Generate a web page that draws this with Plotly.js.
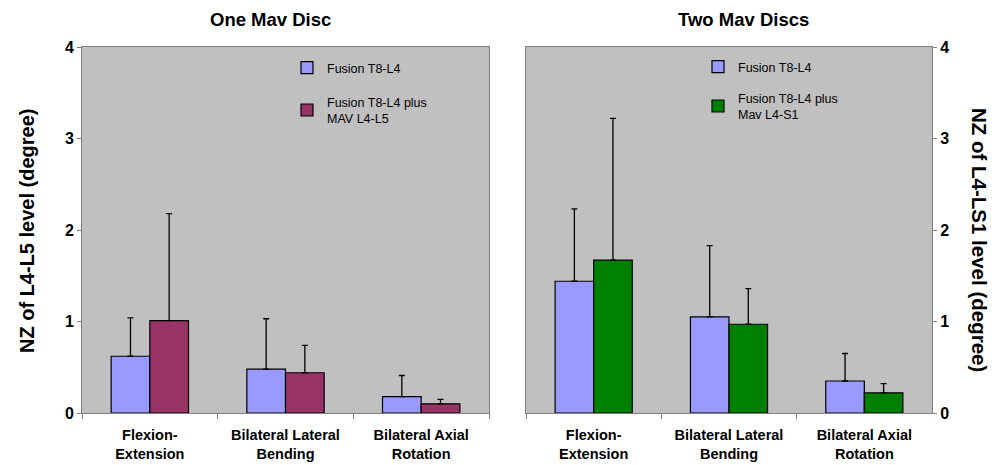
<!DOCTYPE html>
<html>
<head>
<meta charset="utf-8">
<script src="https://cdn.plot.ly/plotly-3.0.1.min.js"></script>
<style>
  html, body { margin: 0; padding: 0; background: #ffffff; }
  #chart { width: 1003px; height: 465px; }
</style>
</head>
<body>
<div id="chart"></div>
<script>
// Motion categories shared by both panels
const categories = ['Flexion-<br>Extension', 'Bilateral Lateral<br>Bending', 'Bilateral Axial<br>Rotation'];

// One Mav disc (L4-L5 level): means and upper SD
const oneFusionMean = [0.62, 0.48, 0.18];
const oneFusionSD   = [0.42, 0.55, 0.23];
const oneMavMean    = [1.01, 0.44, 0.10];
const oneMavSD      = [1.17, 0.30, 0.05];

// Two Mav discs (L4-S1 level): means and upper SD
const twoFusionMean = [1.44, 1.05, 0.35];
const twoFusionSD   = [0.79, 0.78, 0.30];
const twoMavMean    = [1.67, 0.97, 0.22];
const twoMavSD      = [1.55, 0.39, 0.10];

const yTicks = [0, 1, 2, 3, 4];

const FONT = 'Arial, "Liberation Sans", sans-serif';
const zeros = a => a.map(() => 0);

function barTrace(name, mean, sd, color, xa, ya, legend, group) {
  return {
    type: 'bar', name: name, x: categories, y: mean,
    xaxis: xa, yaxis: ya, legend: legend, legendgroup: group,
    marker: { color: color, line: { color: '#000000', width: 1.2 } },
    error_y: { type: 'data', symmetric: false, array: sd, arrayminus: zeros(sd),
               color: '#000000', thickness: 1.3, width: 3 },
    hoverinfo: 'y'
  };
}

const data = [
  barTrace('Fusion T8-L4', oneFusionMean, oneFusionSD, '#9999ff', 'x', 'y', 'legend', 'a'),
  barTrace('Fusion T8-L4 plus<br>MAV L4-L5', oneMavMean, oneMavSD, '#993366', 'x', 'y', 'legend', 'b'),
  barTrace('Fusion T8-L4', twoFusionMean, twoFusionSD, '#9999ff', 'x2', 'y2', 'legend2', 'c'),
  barTrace('Fusion T8-L4 plus<br>Mav L4-S1', twoMavMean, twoMavSD, '#008000', 'x2', 'y2', 'legend2', 'd')
];

const W = 1003, H = 465;
const px = v => v / W;
const py = v => (H - v) / H;

const xCommon = {
  type: 'category', tickson: 'boundaries', ticks: 'outside', ticklen: 5,
  tickcolor: '#808080', linecolor: '#808080', linewidth: 1, mirror: true,
  showgrid: false, zeroline: false, ticklabelstandoff: 9,
  tickfont: { family: FONT, size: 14.5, color: '#000000', weight: 'bold' }
};
const yCommon = {
  range: [0, 4], tickvals: yTicks, ticktext: yTicks.map(String),
  ticks: 'outside', ticklen: 4, tickcolor: '#808080',
  linecolor: '#808080', linewidth: 1, mirror: true,
  showgrid: false, zeroline: false,
  tickfont: { family: FONT, size: 16, color: '#000000', weight: 'bold' }
};

const legendCommon = {
  bgcolor: 'rgba(0,0,0,0)', borderwidth: 0,
  font: { family: FONT, size: 12.5, color: '#000000' },
  traceorder: 'grouped', tracegroupgap: 12,
  xanchor: 'left', yanchor: 'top', itemclick: false
};

const layout = {
  width: W, height: H,
  margin: { l: 0, r: 0, t: 0, b: 0 },
  paper_bgcolor: '#ffffff', plot_bgcolor: '#c0c0c0',
  barmode: 'group', bargap: 0.43, bargroupgap: 0,
  showlegend: true,
  xaxis:  Object.assign({}, xCommon, { domain: [px(82), px(489)], anchor: 'y' }),
  yaxis:  Object.assign({}, yCommon, { domain: [py(413), py(47)], anchor: 'x', side: 'left' }),
  xaxis2: Object.assign({}, xCommon, { domain: [px(526), px(932)], anchor: 'y2' }),
  yaxis2: Object.assign({}, yCommon, { domain: [py(413), py(47)], anchor: 'x2', side: 'right' }),
  legend:  Object.assign({}, legendCommon, { x: px(287), y: py(53), tracegroupgap: 15 }),
  legend2: Object.assign({}, legendCommon, { x: px(698), y: py(52) }),
  annotations: [
    { text: '<b>One Mav Disc</b>', xref: 'paper', yref: 'paper', x: px(270), y: py(20),
      xanchor: 'center', yanchor: 'middle',
      showarrow: false, font: { family: FONT, size: 18.5, color: '#000000' } },
    { text: '<b>Two Mav Discs</b>', xref: 'paper', yref: 'paper', x: px(743), y: py(20),
      xanchor: 'center', yanchor: 'middle',
      showarrow: false, font: { family: FONT, size: 18.5, color: '#000000' } },
    { text: '<b>NZ of L4-L5 level (degree)</b>', xref: 'paper', yref: 'paper', x: px(27), y: py(231),
      xanchor: 'center', yanchor: 'middle',
      textangle: -90, showarrow: false, font: { family: FONT, size: 20, color: '#000000' } },
    { text: '<b>NZ of L4-LS1 level (degree)</b>', xref: 'paper', yref: 'paper', x: px(980), y: py(240),
      xanchor: 'center', yanchor: 'middle',
      textangle: 90, showarrow: false, font: { family: FONT, size: 20.5, color: '#000000' } }
  ]
};

Plotly.newPlot('chart', data, layout, { displayModeBar: false, staticPlot: true });
</script>
</body>
</html>
